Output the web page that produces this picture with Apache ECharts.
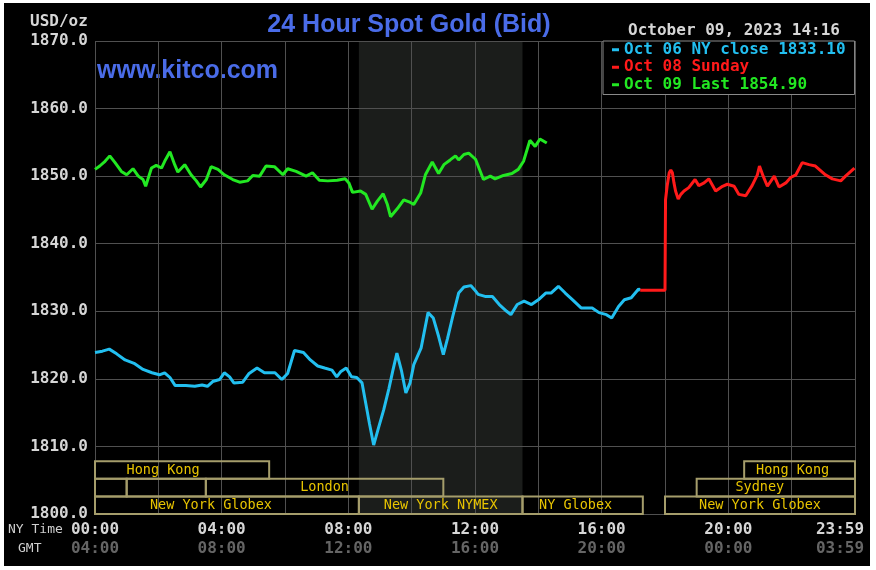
<!DOCTYPE html>
<html><head><meta charset="utf-8">
<script src="https://cdn.jsdelivr.net/npm/echarts@6/dist/echarts.min.js"></script>
<style>
html,body{margin:0;padding:0;background:#fff;width:876px;height:570px;overflow:hidden}
#c{position:absolute;left:4px;top:3px;width:866px;height:563px;}
</style>
</head><body><div id="c"></div>
<script>
// ---------- DATA ----------
// minutes after 00:00 NY time
const cyanName = 'Oct 06 NY close 1833.10';
const cyanT = [0,14,27,41,57,74,91,108,122,132,142,152,172,189,203,213,223,236,245,255,263,280,292,307,321,341,354,365,378,395,408,422,435,449,458,466,476,486,496,506,513,520,528,537,547,557,564,572,581,589,597,604,618,631,641,651,660,668,678,689,699,712,719,726,739,753,766,780,788,800,813,827,840,854,864,878,891,905,921,942,955,969,979,992,1003,1016,1030,1033];
const cyanV = [1823.9,1824.1,1824.4,1823.7,1822.8,1822.3,1821.4,1820.9,1820.6,1820.9,1820.2,1819.0,1819.0,1818.9,1819.1,1818.9,1819.6,1819.9,1820.9,1820.3,1819.4,1819.5,1820.8,1821.6,1820.9,1820.9,1819.9,1820.8,1824.2,1823.9,1822.8,1821.9,1821.6,1821.3,1820.3,1821.1,1821.6,1820.3,1820.2,1819.4,1816.4,1813.4,1810.2,1812.7,1815.4,1818.6,1821.1,1823.8,1821.1,1817.9,1819.4,1822.1,1824.6,1829.8,1829.0,1826.3,1823.6,1826.0,1829.3,1832.7,1833.6,1833.8,1833.2,1832.5,1832.2,1832.2,1831.0,1830.0,1829.5,1831.0,1831.5,1831.0,1831.7,1832.7,1832.7,1833.7,1832.7,1831.7,1830.5,1830.5,1829.8,1829.5,1829.0,1830.7,1831.7,1832.0,1833.3,1833.1];

const redName = 'Oct 08 Sunday';
const redT = [1033,1080,1081,1084,1088,1091,1094,1097,1100,1105,1110,1116,1125,1137,1144,1154,1163,1176,1189,1198,1211,1220,1233,1245,1255,1259,1266,1274,1287,1296,1309,1318,1328,1340,1353,1365,1384,1397,1413,1422,1439];
const redV = [1833.1,1833.1,1846.5,1848.5,1850.5,1850.9,1850.5,1849.0,1847.8,1846.6,1847.3,1847.8,1848.3,1849.5,1848.6,1849.0,1849.6,1847.8,1848.5,1848.8,1848.5,1847.3,1847.1,1848.6,1850.2,1851.5,1850.0,1848.5,1850.0,1848.4,1849.0,1849.8,1850.2,1852.0,1851.7,1851.5,1850.2,1849.6,1849.3,1850.0,1851.2];

const greenName = 'Oct 09 Last 1854.90';
const greenT = [0,9,19,28,38,50,60,72,82,91,96,107,116,126,132,142,151,157,170,182,192,200,211,220,233,245,261,274,289,299,312,324,340,356,365,381,400,412,425,441,459,474,481,488,503,513,525,535,546,554,560,573,585,595,604,617,626,639,651,661,673,683,689,699,708,721,736,749,758,774,790,802,812,824,834,843,856];
const greenV = [1851.0,1851.5,1852.2,1853.0,1852.0,1850.7,1850.2,1851.1,1850.0,1849.5,1848.5,1851.2,1851.6,1851.2,1852.2,1853.6,1851.7,1850.6,1851.7,1850.2,1849.3,1848.4,1849.5,1851.4,1851.0,1850.2,1849.5,1849.1,1849.3,1850.1,1850.0,1851.5,1851.4,1850.2,1851.1,1850.7,1850.0,1850.5,1849.4,1849.3,1849.4,1849.6,1849.0,1847.6,1847.8,1847.3,1845.1,1846.3,1847.4,1845.8,1844.0,1845.2,1846.5,1846.2,1845.8,1847.5,1850.2,1852.1,1850.4,1851.7,1852.4,1853.0,1852.4,1853.2,1853.4,1852.5,1849.5,1850.0,1849.6,1850.1,1850.4,1851.0,1852.2,1855.3,1854.4,1855.5,1854.9];

// x tick labels
const tickMinutes = [0,240,480,720,960,1200,1440];
const nyLabels   = ['00:00','04:00','08:00','12:00','16:00','20:00','23:59'];
const gmtLabels  = ['04:00','08:00','12:00','16:00','20:00','00:00','03:59'];

// NYMEX session (shaded), minutes
const nymexStart = 500, nymexEnd = 810;

// trading sessions (hours NY time); row 0 = top row
const sessNames = ['Hong Kong','','','London','New York Globex','New York NYMEX','NY Globex','New York Globex','Sydney','Hong Kong'];
const sessStart = [0,   0, 1,   3.5, 0,     8.333, 13.5, 18, 19, 20.5];
const sessEnd   = [5.5, 1, 3.5, 11,  8.333, 13.5,  17.3, 24, 24, 24];
const sessRow   = [0,   1, 1,   1,   2,     2,     2,    2,  1,  0];

const titleText = '24 Hour Spot Gold (Bid)';
const dateText = 'October 09, 2023 14:16';

// ---------- STYLE ----------
const MONO = '"DejaVu Sans Mono", "Liberation Mono", monospace';
const SANS = '"Liberation Sans", Arial, sans-serif';
const sessLabelShift = [-19,0,0,0,-16,0,-7,0,-16,-7];
const rowH = 2.6;
const gridCol = '#505050';

const zip = (t, v) => t.map((x, i) => [x, v[i]]);

const sessAreas = sessNames.map((n, i) => {
  const top = 1800 + rowH * (3 - sessRow[i]);
  const bot = top - rowH;
  return [
    {name: n, xAxis: sessStart[i] * 60, yAxis: top, label: {offset: [sessLabelShift[i], 0]}},
    {xAxis: sessEnd[i] * 60, yAxis: bot}
  ];
});

const chart = echarts.init(document.getElementById('c'), null, {renderer: 'canvas'});
chart.setOption({
  animation: false,
  backgroundColor: '#000',
  grid: {left: 91, right: 15, top: 38, bottom: 52, containLabel: false, outerBoundsMode: 'none'},
  xAxis: {
    type: 'value', min: 0, max: 1440, interval: 120,
    axisLine: {show: false}, axisTick: {show: false},
    splitLine: {show: true, lineStyle: {color: gridCol, width: 1}},
    axisLabel: {
      margin: 6, showMaxLabel: true, showMinLabel: true, hideOverlap: false,
      formatter: function (v) {
        const i = tickMinutes.indexOf(v);
        if (i < 0) return '';
        if (i === tickMinutes.length - 1) return '{a2|' + nyLabels[i] + '}\n{b2|' + gmtLabels[i] + '}';
        return '{a|' + nyLabels[i] + '}\n{b|' + gmtLabels[i] + '}';
      },
      rich: {
        a:  {fontFamily: MONO, fontWeight: 'bold', fontSize: 16, color: '#d6d6d6', lineHeight: 19},
        b:  {fontFamily: MONO, fontWeight: 'bold', fontSize: 16, color: '#656565', lineHeight: 19},
        a2: {fontFamily: MONO, fontWeight: 'bold', fontSize: 16, color: '#d6d6d6', lineHeight: 19, padding: [0, 30, 0, 0]},
        b2: {fontFamily: MONO, fontWeight: 'bold', fontSize: 16, color: '#656565', lineHeight: 19, padding: [0, 30, 0, 0]}
      }
    }
  },
  yAxis: {
    type: 'value', min: 1800, max: 1870, interval: 10,
    axisLine: {show: false}, axisTick: {show: false},
    splitLine: {show: true, lineStyle: {color: gridCol, width: 1}},
    axisLabel: {margin: 7, fontFamily: MONO, fontWeight: 'bold', fontSize: 16, color: '#d6d6d6',
      formatter: v => v.toFixed(1)}
  },
  legend: {
    left: 599, top: 38, orient: 'vertical', selectedMode: false,
    padding: [0, 9, 1, 9], itemGap: 0, itemWidth: 7, itemHeight: 3, icon: 'rect',
    backgroundColor: '#000', borderColor: '#8a8a8a', borderWidth: 1,
    textStyle: {fontFamily: MONO, fontWeight: 'bold', fontSize: 16, lineHeight: 17.5},
    data: [
      {name: cyanName, textStyle: {color: '#22bff0'}},
      {name: redName, textStyle: {color: '#ff1a1a'}},
      {name: greenName, textStyle: {color: '#22e822'}}
    ]
  },
  graphic: [
    {type: 'text', x: 405, y: 22, silent: true, style: {text: titleText, font: 'bold 25px ' + SANS, fill: '#4a6ce8', align: 'center', verticalAlign: 'middle'}},
    {type: 'text', x: 93, y: 68, silent: true, style: {text: 'www.kitco.com', font: 'bold 25px ' + SANS, fill: '#4a6ce8', align: 'left', verticalAlign: 'middle'}},
    {type: 'text', x: 26, y: 19, silent: true, style: {text: 'USD/oz', font: 'bold 16px ' + MONO, fill: '#d6d6d6', align: 'left', verticalAlign: 'middle'}},
    {type: 'text', x: 836, y: 28, silent: true, style: {text: dateText, font: 'bold 16px ' + MONO, fill: '#d6d6d6', align: 'right', verticalAlign: 'middle'}},
    {type: 'text', x: 4, y: 527, silent: true, style: {text: 'NY Time', font: '13px ' + MONO, fill: '#cfcfcf', align: 'left', verticalAlign: 'middle'}},
    {type: 'text', x: 14, y: 546, silent: true, style: {text: 'GMT', font: '13px ' + MONO, fill: '#cfcfcf', align: 'left', verticalAlign: 'middle'}}
  ],
  series: [
    {
      type: 'line', name: 'nymex-shade', data: [], z: -1, silent: true,
      markArea: {silent: true, z: -1, itemStyle: {color: '#1b1d1b'},
        data: [[{xAxis: nymexStart, yAxis: 1800}, {xAxis: nymexEnd, yAxis: 1870}]]}
    },
    {
      type: 'line', name: 'sessions', data: [], z: 3, silent: true,
      markArea: {silent: true,
        itemStyle: {color: 'rgba(0,0,0,0)', borderColor: '#a59d6b', borderWidth: 2},
        label: {show: true, position: 'inside', color: '#e8c400', fontFamily: MONO, fontSize: 13.5},
        emphasis: {disabled: true},
        data: sessAreas}
    },
    {type: 'line', name: cyanName, data: zip(cyanT, cyanV), showSymbol: false, symbol: 'none', z: 5,
      lineStyle: {width: 3, color: '#22bff0'}, itemStyle: {color: '#22bff0'}},
    {type: 'line', name: redName, data: zip(redT, redV), showSymbol: false, symbol: 'none', z: 6,
      lineStyle: {width: 3, color: '#ff1a1a'}, itemStyle: {color: '#ff1a1a'}},
    {type: 'line', name: greenName, data: zip(greenT, greenV), showSymbol: false, symbol: 'none', z: 7,
      lineStyle: {width: 3, color: '#22e822'}, itemStyle: {color: '#22e822'}}
  ]
});
</script>
</body></html>
